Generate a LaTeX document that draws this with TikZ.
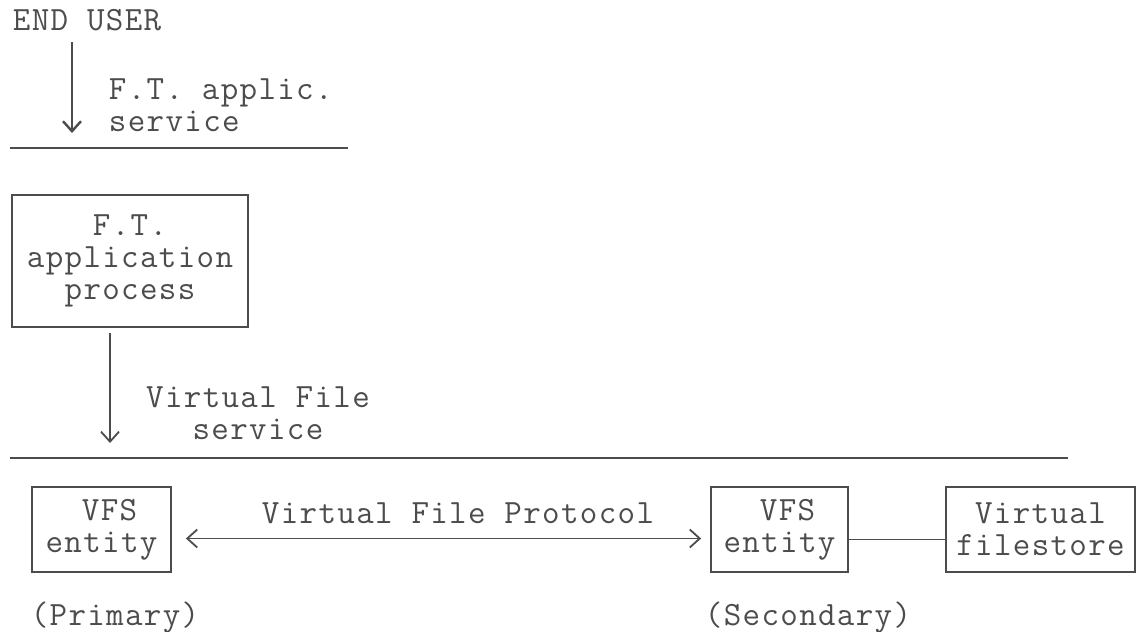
\documentclass[tikz,border=0pt]{standalone}
\usepackage{fontspec}
\usepackage{tikz}
\usetikzlibrary{arrows.meta}
\newfontfamily\typewfont{lmmono12-regular.otf}[LetterSpace=4]
\definecolor{ink}{gray}{0.3}
\tikzset{
  txt/.style={font=\typewfont\fontsize{17}{16}\selectfont,text=ink,inner sep=0pt},
  box/.style={txt,draw=ink,line width=0.9pt},
}

\begin{document}
\begin{tikzpicture}[>={Straight Barb[length=5pt,width=9pt]},x=0.5pt,y=-0.5pt,line width=0.9pt,draw=ink]
  \useasboundingbox (0,0) rectangle (1136,632);
  % end user and F.T. application service
  \node[txt,anchor=base west] (enduser) at (12,30) {END USER};
  \coordinate (a1top) at (72,42);
  \coordinate (a1bot) at (72,133);
  \draw[->,line width=1.2pt] (a1top) -- (a1bot);
  \node[txt,align=left,anchor=west] (ftserv) at (108,105) {F.T. applic.\\service};
  \draw (10,148) -- (348,148);

  % application process
  \node[box,align=center,minimum width=118pt,minimum height=66pt] (ftproc) at (130,261) {F.T.\\application\\process};
  \coordinate (a2top) at (110,333);
  \coordinate (a2bot) at (110,443);
  \draw[->] (a2top) -- (a2bot);
  \node[txt,align=center] (vfserv) at (258,413) {Virtual File\\service};
  \draw (10,458) -- (1068,458);

  % VFS entities and filestore
  \node[box,align=left,minimum width=69.5pt,minimum height=42.5pt] (vfsa) at (101.5,529.5) {\phantom{en}VFS\\entity};
  \node[box,align=left,minimum width=68.5pt,minimum height=42.5pt] (vfsb) at (779.5,529.5) {\phantom{en}VFS\\entity};
  \node[box,align=center,minimum width=94.5pt,minimum height=42.5pt] (store) at (1040.5,529.5) {Virtual\\filestore};
  \draw[<->] ([xshift=7pt,yshift=-4.5pt]vfsa.east) -- ([xshift=-4.5pt,yshift=-4.5pt]vfsb.west);
  \draw ([yshift=-5pt]vfsb.east) -- ([yshift=-5pt]store.west);
  \node[txt] (vfp) at (458,513) {Virtual File Protocol};
  \node[txt] (prim) at (115,618) {(Primary)};
  \node[txt] (sec) at (808,618) {(Secondary)};
\end{tikzpicture}
\end{document}
